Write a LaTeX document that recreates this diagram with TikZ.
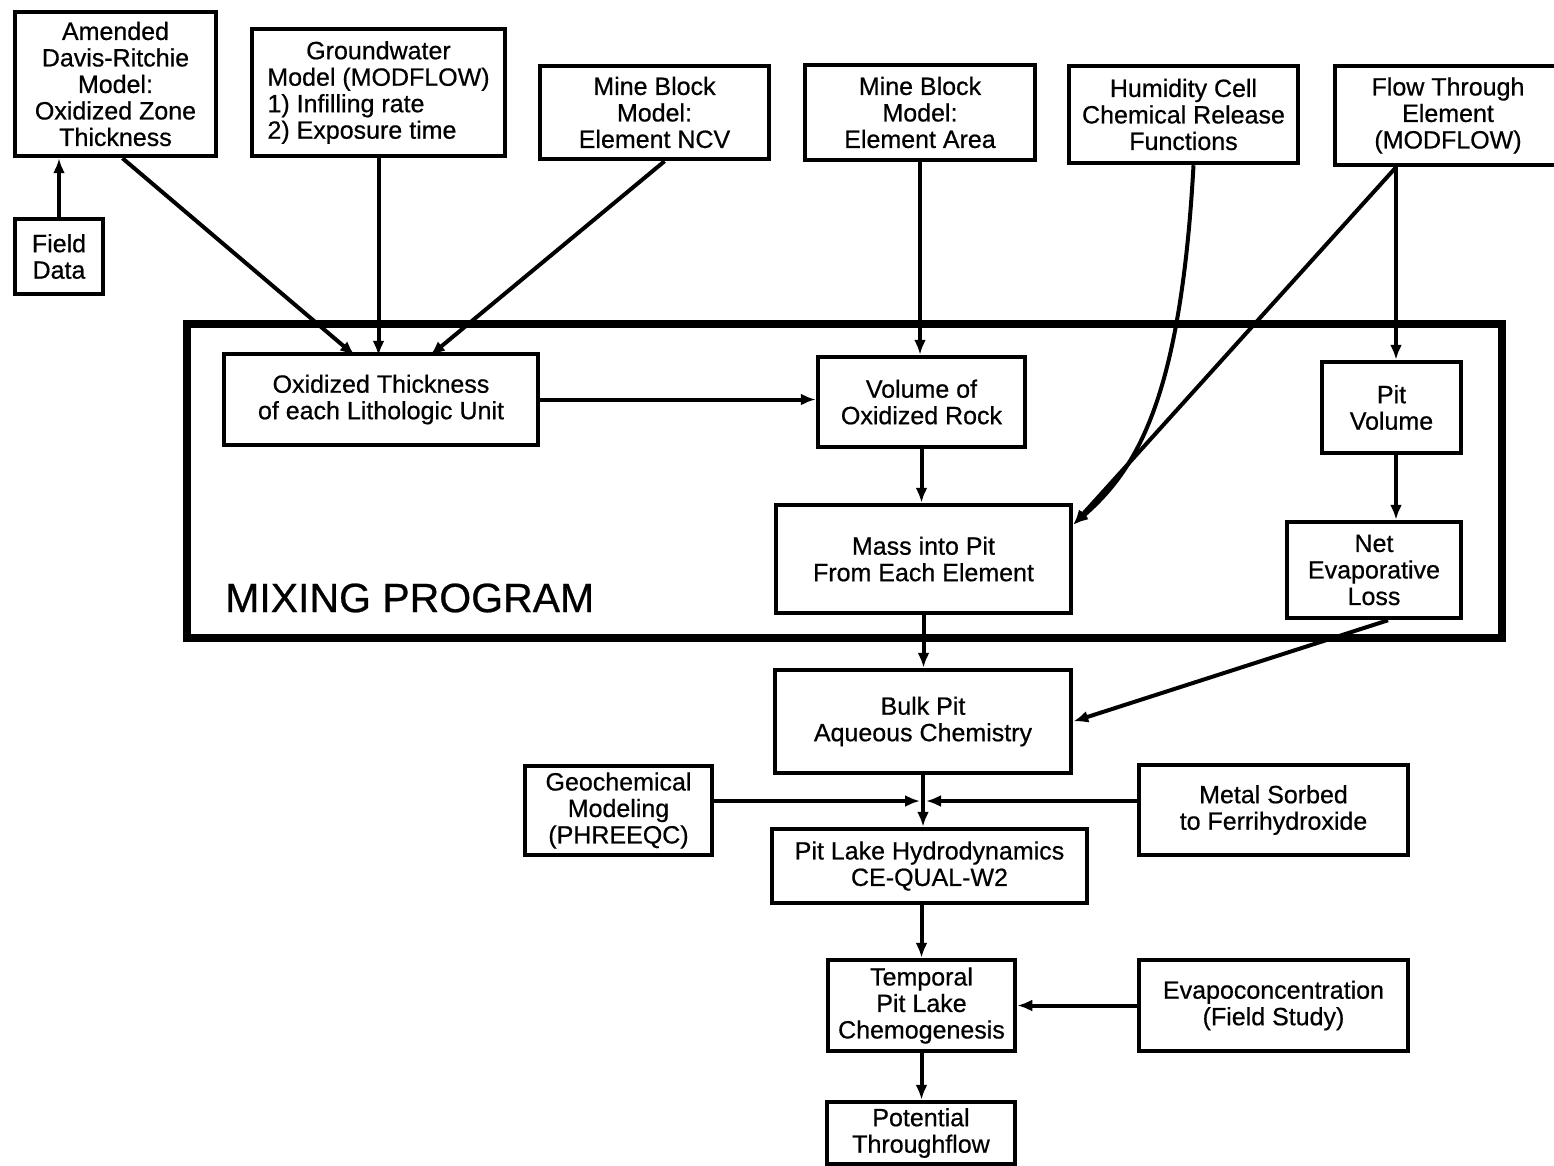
\documentclass[tikz,border=0pt]{standalone}
\usepackage{fontspec}
\setmainfont{Liberation Sans}[FakeBold=0.6]
\usetikzlibrary{arrows.meta,calc}

\begin{document}
\begin{tikzpicture}[x=1pt,y=-1pt]
\tikzstyle{every node}+=[inner sep=0pt]
\tikzstyle{box}=[draw,line width=4.5pt,align=center,font=\fontsize{25}{26.5}\selectfont]
\tikzstyle{arr}=[line width=4pt,-{Latex[length=15pt,width=12pt]}]
\useasboundingbox (0,0) rectangle (1554,1166);
\node [draw,line width=8pt,minimum width=1315pt,minimum height=314pt] (mix) at (844.5,481) {};
\node [anchor=west,font=\fontsize{41}{44}\selectfont] (mixlbl) at (225,598) {MIXING PROGRAM};
\node [box,minimum width=201pt,minimum height=144pt] (adr) at (115.5,84) {Amended\\Davis-Ritchie\\Model:\\Oxidized Zone\\Thickness};
\node [box,minimum width=88pt,minimum height=75pt] (fd) at (59,256.5) {Field\\Data};
\node [box,minimum width=253pt,minimum height=127pt] (gw) at (378.5,92.5) {Groundwater\\Model (MODFLOW)\\\makebox[222pt][l]{1) Infilling rate}\\\makebox[222pt][l]{2) Exposure time}};
\node [box,minimum width=229pt,minimum height=93pt] (ncv) at (654.5,112.5) {Mine Block\\Model:\\Element NCV};
\node [box,minimum width=230pt,minimum height=95pt] (area) at (920,112.5) {Mine Block\\Model:\\Element Area};
\node [box,minimum width=229pt,minimum height=97pt] (hum) at (1183.5,114.5) {Humidity Cell\\Chemical Release\\Functions};
\node [box,minimum width=226pt,minimum height=99pt] (flow) at (1448,115.5) {Flow Through\\Element\\(MODFLOW)};
\node [box,minimum width=314pt,minimum height=91pt] (ox) at (381,399.5) {Oxidized Thickness\\of each Lithologic Unit};
\node [box,minimum width=207pt,minimum height=90pt] (vol) at (921.5,402) {Volume of\\Oxidized Rock};
\node [box,minimum width=295pt,minimum height=108pt] (mass) at (923.5,559) {Mass into Pit\\From Each Element};
\node [box,minimum width=139pt,minimum height=91pt] (pit) at (1391.5,407.5) {Pit\\Volume};
\node [box,minimum width=174pt,minimum height=96pt] (net) at (1374,570) {Net\\Evaporative\\Loss};
\node [box,minimum width=296pt,minimum height=103pt] (bulk) at (923,721.5) {Bulk Pit\\Aqueous Chemistry};
\node [box,minimum width=187pt,minimum height=89pt] (geo) at (618.5,810.5) {Geochemical\\Modeling\\(PHREEQC)};
\node [box,minimum width=269pt,minimum height=90pt] (metal) at (1273.5,810) {Metal Sorbed\\to Ferrihydroxide};
\node [box,minimum width=315pt,minimum height=74pt] (hyd) at (929.5,866) {Pit Lake Hydrodynamics\\CE-QUAL-W2};
\node [box,minimum width=187pt,minimum height=91pt] (tem) at (921.5,1005.5) {Temporal\\Pit Lake\\Chemogenesis};
\node [box,minimum width=269pt,minimum height=91pt] (evap) at (1273.5,1005.5) {Evapoconcentration\\(Field Study)};
\node [box,minimum width=188pt,minimum height=62pt] (pot) at (921,1133) {Potential\\Throughflow};
\coordinate (fs) at ([xshift=-52pt]flow.south);
\coordinate (jn) at ($(bulk.south)!0.5!(bulk.south |- hyd.north)$);
\draw [arr] (fd.north) -- (fd.north |- adr.south);
\draw [arr] ([xshift=7pt]adr.south) -- ([xshift=-26pt,yshift=-4pt]ox.north);
\draw [arr] (gw.south) -- ([yshift=-4pt]gw.south |- ox.north);
\draw [arr] ([xshift=10pt]ncv.south) -- ([xshift=49pt,yshift=-4pt]ox.north);
\draw [arr] (area.south) -- (area.south |- vol.north);
\draw [arr] ([xshift=10pt]hum.south) .. controls +(-13,235) and +(63,-55) .. ([yshift=-22pt]mass.north east);
\draw [arr] (fs) -- ([yshift=-22pt]mass.north east);
\draw [arr] (fs) -- (fs |- pit.north);
\draw [arr] (ox.east) -- (ox.east -| vol.west);
\draw [arr] (vol.south) -- (vol.south |- mass.north);
\draw [arr] (fs |- pit.south) -- (fs |- net.north);
\draw [arr] (mass.south) -- (mass.south |- bulk.north);
\draw [arr] ([xshift=14pt]net.south) -- (bulk.east);
\draw [arr] (bulk.south) -- (bulk.south |- hyd.north);
\draw [arr] (geo.east |- jn) -- ([xshift=-3pt]jn);
\draw [arr] (metal.west |- jn) -- ([xshift=3pt]jn);
\draw [arr] (tem.north |- hyd.south) -- (tem.north);
\draw [arr] (evap.west) -- (evap.west -| tem.east);
\draw [arr] (tem.south) -- (tem.south |- pot.north);
\end{tikzpicture}
\end{document}
